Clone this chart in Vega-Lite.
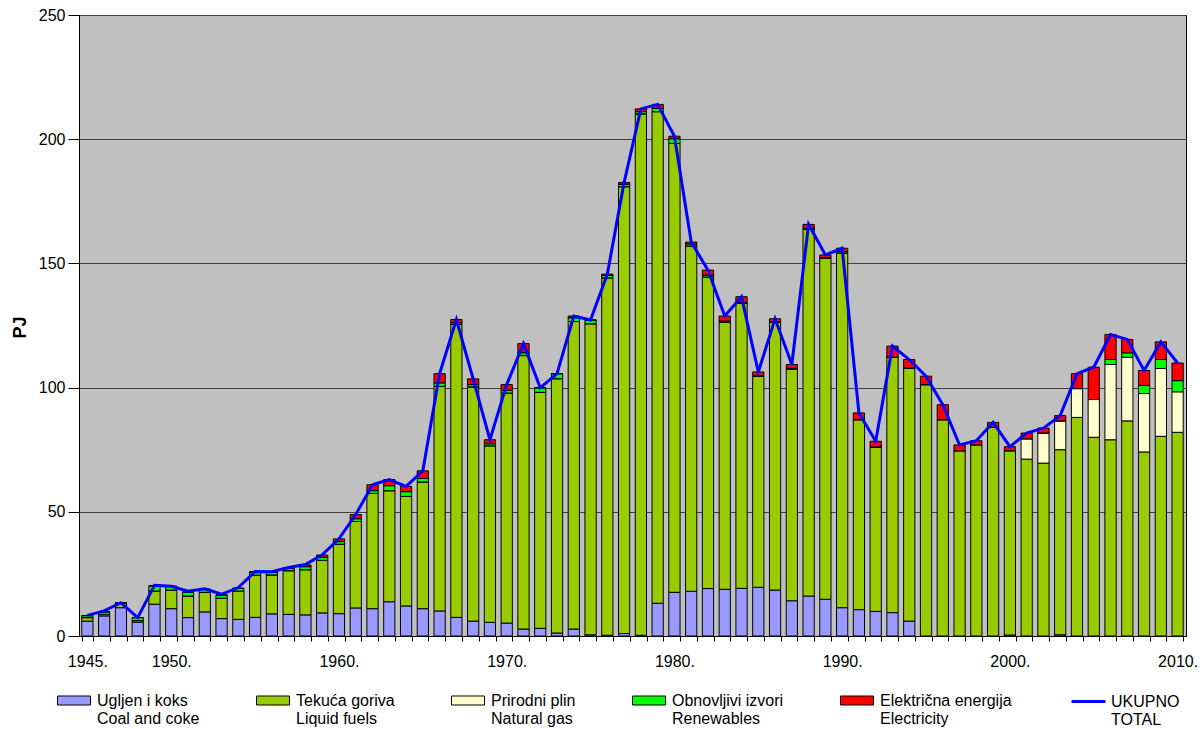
{
  "$schema": "https://vega.github.io/schema/vega-lite/v6.json",
  "autosize": {"type": "none"},
  "padding": {"left": 79, "top": 15, "right": 17, "bottom": 93},
  "width": 1107,
  "height": 621,
  "background": "white",
  "config": {
    "font": "Liberation Sans",
    "view": {"fill": "#C0C0C0", "stroke": "#000000", "strokeWidth": 1},
    "axis": {"labelFont": "Liberation Sans", "labelFontSize": 16, "labelColor": "#000000", "domainColor": "#000000", "tickColor": "#000000", "titleFont": "Liberation Sans", "titleColor": "#000000"},
    "legend": {"labelFont": "Liberation Sans", "labelFontSize": 16, "labelColor": "#000000"}
  },
  "datasets": {
    "energy": [
      {"year": 1945, "coal": 6.0, "liquid": 1.4, "gas": 0, "renewables": 0.8, "electricity": 0, "total": 8.3},
      {"year": 1946, "coal": 8.1, "liquid": 0.6, "gas": 0, "renewables": 1.0, "electricity": 0, "total": 10.1},
      {"year": 1947, "coal": 11.4, "liquid": 1.7, "gas": 0, "renewables": 0.3, "electricity": 0, "total": 13.4},
      {"year": 1948, "coal": 5.6, "liquid": 0.6, "gas": 0, "renewables": 1.2, "electricity": 0, "total": 7.4},
      {"year": 1949, "coal": 12.8, "liquid": 5.3, "gas": 0, "renewables": 2.1, "electricity": 0, "total": 20.4},
      {"year": 1950, "coal": 11.0, "liquid": 7.5, "gas": 0, "renewables": 1.5, "electricity": 0, "total": 20.0},
      {"year": 1951, "coal": 7.4, "liquid": 8.7, "gas": 0, "renewables": 1.6, "electricity": 0, "total": 18.0},
      {"year": 1952, "coal": 9.7, "liquid": 7.9, "gas": 0, "renewables": 1.2, "electricity": 0, "total": 19.0},
      {"year": 1953, "coal": 7.0, "liquid": 8.2, "gas": 0, "renewables": 1.3, "electricity": 0, "total": 16.8},
      {"year": 1954, "coal": 6.7, "liquid": 11.4, "gas": 0, "renewables": 1.1, "electricity": 0, "total": 19.5},
      {"year": 1955, "coal": 7.5, "liquid": 17.0, "gas": 0, "renewables": 1.3, "electricity": 0, "total": 26.0},
      {"year": 1956, "coal": 8.9, "liquid": 15.7, "gas": 0, "renewables": 1.1, "electricity": 0, "total": 25.9},
      {"year": 1957, "coal": 8.7, "liquid": 17.6, "gas": 0, "renewables": 1.0, "electricity": 0, "total": 27.6},
      {"year": 1958, "coal": 8.5, "liquid": 18.2, "gas": 0, "renewables": 1.2, "electricity": 0.7, "total": 28.8},
      {"year": 1959, "coal": 9.3, "liquid": 21.2, "gas": 0, "renewables": 1.2, "electricity": 0.9, "total": 32.7},
      {"year": 1960, "coal": 9.0, "liquid": 28.0, "gas": 0, "renewables": 1.0, "electricity": 1.1, "total": 39.1},
      {"year": 1961, "coal": 11.3, "liquid": 34.8, "gas": 0, "renewables": 1.1, "electricity": 1.7, "total": 48.9},
      {"year": 1962, "coal": 11.0, "liquid": 46.4, "gas": 0, "renewables": 1.1, "electricity": 2.4, "total": 60.9},
      {"year": 1963, "coal": 13.8, "liquid": 44.7, "gas": 0, "renewables": 2.0, "electricity": 2.5, "total": 63.0},
      {"year": 1964, "coal": 12.1, "liquid": 44.1, "gas": 0, "renewables": 1.9, "electricity": 2.1, "total": 60.2},
      {"year": 1965, "coal": 11.0, "liquid": 51.0, "gas": 0, "renewables": 1.4, "electricity": 3.1, "total": 66.5},
      {"year": 1966, "coal": 10.1, "liquid": 90.4, "gas": 0, "renewables": 1.4, "electricity": 3.7, "total": 105.6},
      {"year": 1967, "coal": 7.5, "liquid": 117.9, "gas": 0, "renewables": 0.7, "electricity": 1.3, "total": 127.4},
      {"year": 1968, "coal": 6.0, "liquid": 94.3, "gas": 0, "renewables": 0.9, "electricity": 2.3, "total": 103.5},
      {"year": 1969, "coal": 5.5, "liquid": 71.1, "gas": 0, "renewables": 0.8, "electricity": 1.6, "total": 79.0},
      {"year": 1970, "coal": 5.2, "liquid": 92.6, "gas": 0, "renewables": 1.1, "electricity": 2.3, "total": 101.2},
      {"year": 1971, "coal": 2.8, "liquid": 110.1, "gas": 0, "renewables": 1.1, "electricity": 3.7, "total": 117.7},
      {"year": 1972, "coal": 3.1, "liquid": 95.0, "gas": 0, "renewables": 1.8, "electricity": 0, "total": 99.9},
      {"year": 1973, "coal": 1.2, "liquid": 102.4, "gas": 0, "renewables": 2.0, "electricity": 0, "total": 105.6},
      {"year": 1974, "coal": 2.8, "liquid": 123.8, "gas": 0, "renewables": 1.5, "electricity": 0.7, "total": 128.8},
      {"year": 1975, "coal": 0.5, "liquid": 125.2, "gas": 0, "renewables": 1.5, "electricity": 0, "total": 127.2},
      {"year": 1976, "coal": 0.3, "liquid": 143.9, "gas": 0, "renewables": 1.0, "electricity": 0.5, "total": 145.7},
      {"year": 1977, "coal": 1.0, "liquid": 179.9, "gas": 0, "renewables": 1.0, "electricity": 0.7, "total": 182.6},
      {"year": 1978, "coal": 0.3, "liquid": 209.9, "gas": 0, "renewables": 0.9, "electricity": 1.1, "total": 212.2},
      {"year": 1979, "coal": 13.2, "liquid": 197.9, "gas": 0, "renewables": 1.3, "electricity": 1.6, "total": 214.0},
      {"year": 1980, "coal": 17.6, "liquid": 180.7, "gas": 0, "renewables": 1.9, "electricity": 1.0, "total": 201.2},
      {"year": 1981, "coal": 18.0, "liquid": 139.0, "gas": 0, "renewables": 0.8, "electricity": 0.8, "total": 158.6},
      {"year": 1982, "coal": 19.1, "liquid": 125.4, "gas": 0, "renewables": 0.8, "electricity": 2.0, "total": 147.3},
      {"year": 1983, "coal": 18.8, "liquid": 107.5, "gas": 0, "renewables": 0.5, "electricity": 2.0, "total": 128.8},
      {"year": 1984, "coal": 19.2, "liquid": 114.8, "gas": 0, "renewables": 0.2, "electricity": 2.4, "total": 136.6},
      {"year": 1985, "coal": 19.6, "liquid": 85.0, "gas": 0, "renewables": 0.2, "electricity": 1.5, "total": 106.3},
      {"year": 1986, "coal": 18.5, "liquid": 107.8, "gas": 0, "renewables": 0.2, "electricity": 1.2, "total": 127.7},
      {"year": 1987, "coal": 14.2, "liquid": 93.3, "gas": 0, "renewables": 0.3, "electricity": 1.5, "total": 109.3},
      {"year": 1988, "coal": 16.1, "liquid": 147.7, "gas": 0, "renewables": 0.3, "electricity": 1.6, "total": 165.7},
      {"year": 1989, "coal": 14.8, "liquid": 137.3, "gas": 0, "renewables": 0.2, "electricity": 1.1, "total": 153.4},
      {"year": 1990, "coal": 11.4, "liquid": 142.8, "gas": 0, "renewables": 0.6, "electricity": 1.3, "total": 156.1},
      {"year": 1991, "coal": 10.6, "liquid": 76.5, "gas": 0, "renewables": 0, "electricity": 2.7, "total": 89.8},
      {"year": 1992, "coal": 9.9, "liquid": 66.2, "gas": 0, "renewables": 0, "electricity": 2.3, "total": 78.4},
      {"year": 1993, "coal": 9.4, "liquid": 102.8, "gas": 0, "renewables": 0, "electricity": 4.5, "total": 116.7},
      {"year": 1994, "coal": 6.0, "liquid": 101.9, "gas": 0, "renewables": 0, "electricity": 3.4, "total": 111.3},
      {"year": 1995, "coal": 0, "liquid": 101.2, "gas": 0, "renewables": 0, "electricity": 3.4, "total": 104.6},
      {"year": 1996, "coal": 0, "liquid": 87.1, "gas": 0, "renewables": 0, "electricity": 6.0, "total": 93.1},
      {"year": 1997, "coal": 0, "liquid": 74.6, "gas": 0, "renewables": 0, "electricity": 2.3, "total": 76.9},
      {"year": 1998, "coal": 0, "liquid": 77.0, "gas": 0, "renewables": 0, "electricity": 1.6, "total": 78.6},
      {"year": 1999, "coal": 0, "liquid": 84.0, "gas": 0, "renewables": 0, "electricity": 2.0, "total": 86.0},
      {"year": 2000, "coal": 0.4, "liquid": 74.2, "gas": 0, "renewables": 0, "electricity": 1.6, "total": 76.2},
      {"year": 2001, "coal": 0, "liquid": 71.2, "gas": 8.2, "renewables": 0, "electricity": 2.3, "total": 81.7},
      {"year": 2002, "coal": 0, "liquid": 69.6, "gas": 12.1, "renewables": 0, "electricity": 2.0, "total": 83.7},
      {"year": 2003, "coal": 0.5, "liquid": 74.5, "gas": 11.6, "renewables": 0, "electricity": 2.1, "total": 88.7},
      {"year": 2004, "coal": 0, "liquid": 88.0, "gas": 11.6, "renewables": 0, "electricity": 6.0, "total": 105.6},
      {"year": 2005, "coal": 0, "liquid": 80.0, "gas": 15.2, "renewables": 0, "electricity": 13.0, "total": 108.2},
      {"year": 2006, "coal": 0, "liquid": 79.0, "gas": 30.3, "renewables": 2.0, "electricity": 10.1, "total": 121.4},
      {"year": 2007, "coal": 0, "liquid": 86.6, "gas": 25.6, "renewables": 1.8, "electricity": 5.4, "total": 119.4},
      {"year": 2008, "coal": 0, "liquid": 74.1, "gas": 23.5, "renewables": 3.3, "electricity": 6.0, "total": 106.9},
      {"year": 2009, "coal": 0, "liquid": 80.4, "gas": 27.3, "renewables": 3.6, "electricity": 7.1, "total": 118.4},
      {"year": 2010, "coal": 0, "liquid": 82.0, "gas": 16.3, "renewables": 4.5, "electricity": 7.1, "total": 109.9}
    ],
    "series": [
      {"key": "coal", "rank": 1},
      {"key": "liquid", "rank": 2},
      {"key": "gas", "rank": 3},
      {"key": "renewables", "rank": 4},
      {"key": "electricity", "rank": 5}
    ]
  },
  "data": {"name": "energy"},
  "layer": [
    {
      "transform": [
        {"fold": ["coal", "liquid", "gas", "renewables", "electricity"], "as": ["source", "pj"]},
        {"lookup": "source", "from": {"data": {"name": "series"}, "key": "key", "fields": ["rank"]}}
      ],
      "mark": {"type": "bar", "stroke": "#000000", "strokeWidth": 1},
      "encoding": {
        "x": {
          "field": "year", "type": "ordinal",
          "scale": {"paddingInner": 0.33, "paddingOuter": 0.165},
          "axis": {
            "title": null,
            "labelExpr": "indexof(['1945','1950','1960','1970','1980','1990','2000','2010'], datum.label) >= 0 ? datum.label + '.' : ''",
            "labelAngle": 0, "labelOverlap": false, "tickBand": "extent", "tickSize": 5,
            "labelPadding": 12, "labelBaseline": "top", "grid": false, "domainWidth": 1
          }
        },
        "y": {
          "field": "pj", "type": "quantitative", "stack": "zero", "title": "PJ",
          "scale": {"domain": [0, 250], "nice": false},
          "axis": {
            "values": [0, 50, 100, 150, 200, 250], "grid": true, "gridColor": "#404040", "gridWidth": 1,
            "tickSize": 11, "labelPadding": 3, "titleFontSize": 18, "titleFontWeight": "bold",
            "titleX": -59, "titleY": 312, "titleAngle": -90, "titleAlign": "center", "titleBaseline": "middle"
          }
        },
        "fill": {
          "field": "source", "type": "nominal",
          "scale": {"domain": ["coal", "liquid", "gas", "renewables", "electricity"], "range": ["#9999FF", "#99CC00", "#FFFFCC", "#00FF00", "#FF0000"]},
          "legend": {
            "orient": "none", "legendX": -22, "legendY": 673.5, "direction": "horizontal", "columns": 5,
            "columnPadding": 54, "title": null, "padding": 0,
            "symbolType": "M-1,-0.576H1V-0.03H-1Z", "symbolSize": 1089, "symbolStrokeColor": "#000000", "symbolStrokeWidth": 1,
            "labelBaseline": "alphabetic", "labelOffset": 6, "labelLimit": 300, "labelLineHeight": 20,
            "labelExpr": "datum.value == 'coal' ? ['Ugljen i koks', 'Coal and coke'] : datum.value == 'liquid' ? ['Tekuća goriva', 'Liquid fuels'] : datum.value == 'gas' ? ['Prirodni plin', 'Natural gas'] : datum.value == 'renewables' ? ['Obnovljivi izvori', 'Renewables'] : ['Električna energija', 'Electricity']"
          }
        },
        "order": {"field": "rank", "type": "quantitative", "sort": "ascending"}
      }
    },
    {
      "mark": {"type": "line", "strokeWidth": 3},
      "encoding": {
        "x": {"field": "year", "type": "ordinal"},
        "y": {"field": "total", "type": "quantitative", "title": "PJ"},
        "stroke": {
          "datum": "total", "type": "nominal",
          "scale": {"domain": ["total"], "range": ["#0000FF"]},
          "legend": {
            "orient": "none", "legendX": 991, "legendY": 673, "title": null, "padding": 0,
            "symbolType": "M-1,-0.294H1", "symbolSize": 1156, "symbolStrokeWidth": 3,
            "labelBaseline": "alphabetic", "labelOffset": 4, "labelLineHeight": 20,
            "labelExpr": "['UKUPNO', 'TOTAL']"
          }
        }
      }
    }
  ]
}
